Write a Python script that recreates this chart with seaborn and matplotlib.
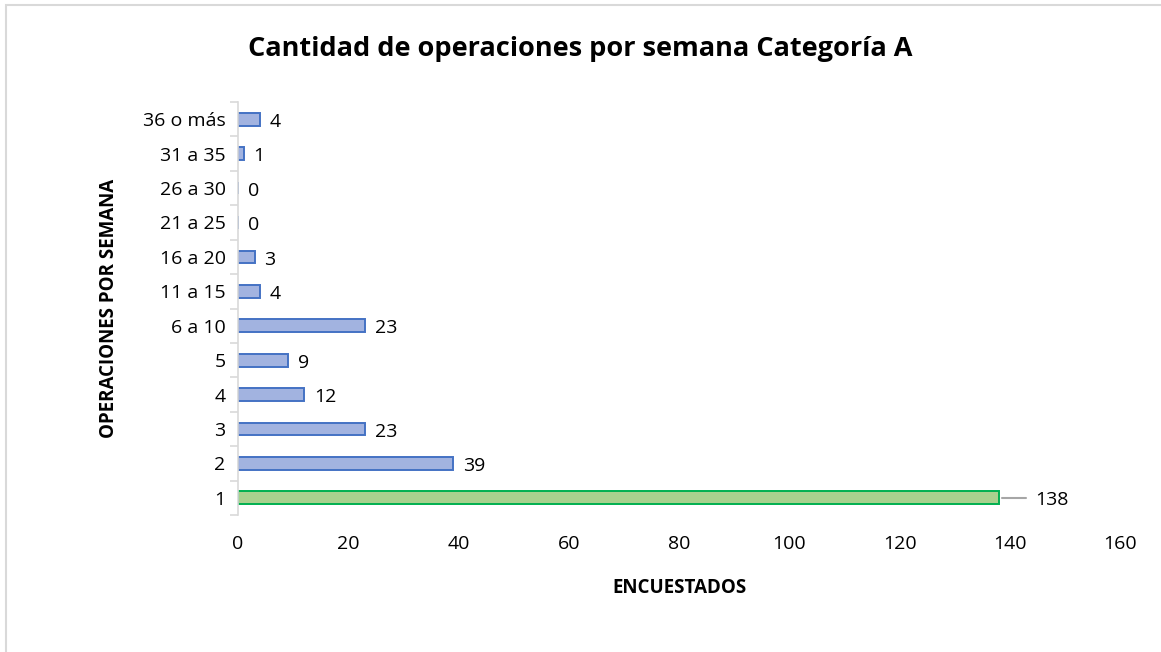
import pandas as pd
import matplotlib.pyplot as plt
import seaborn as sns
from matplotlib.ticker import FixedLocator

# Data (top to bottom as in the chart)
categorias = ["36 o más", "31 a 35", "26 a 30", "21 a 25", "16 a 20", "11 a 15",
              "6 a 10", "5", "4", "3", "2", "1"]
encuestados = [4, 1, 0, 0, 3, 4, 23, 9, 12, 23, 39, 138]
x_ticks = [0, 20, 40, 60, 80, 100, 120, 140, 160]

sns.set_theme(style="white")
plt.rcParams['font.family'] = ['Open Sans', 'DejaVu Sans']

df = pd.DataFrame({"Operaciones": categorias, "Encuestados": encuestados})

blue_fill, blue_edge = "#a2b3e0", "#4472c4"
green_fill, green_edge = "#a9d18e", "#00b050"
fills = {c: (green_fill if c == "1" else blue_fill) for c in categorias}
edges = [green_edge if c == "1" else blue_edge for c in categorias]

fig = plt.figure(figsize=(11.61, 6.52), dpi=100)
ax = fig.add_axes([0.205, 0.21, 0.7597, 0.6336])

sns.barplot(data=df, y="Operaciones", x="Encuestados", hue="Operaciones",
            palette=fills, order=categorias, legend=False, width=0.37,
            orient="h", ax=ax, saturation=1)

for patch, ec in zip(ax.patches, edges):
    patch.set_edgecolor(ec)
    patch.set_linewidth(1.4)

fs = 14
# value labels
for i, v in enumerate(encuestados):
    if v == 138:
        ax.plot([v + 0.6, v + 5.0], [i, i], color="#a6a6a6", lw=1.5)
        ax.text(v + 6.6, i + 0.05, str(v), va="center", ha="left", fontsize=fs,
                color="#000000")
    else:
        ax.text(v + 1.8, i + 0.08, str(v), va="center", ha="left", fontsize=fs,
                color="#000000")

ax.set_xlim(0, 160)
ax.set_ylim(len(categorias) - 0.5, -0.5)
ax.set_xticks(x_ticks)
ax.tick_params(axis="x", length=0, labelsize=fs, pad=14, colors="#000000")
ax.tick_params(axis="y", which="major", left=False, length=0, labelsize=fs,
               pad=9, colors="#000000")
ax.yaxis.set_minor_locator(FixedLocator([i - 0.5 for i in range(len(categorias) + 1)]))
ax.tick_params(axis="y", which="minor", left=True, length=6, width=1.2,
               color="#d9d9d9", direction="out")

for s in ["top", "right", "bottom"]:
    ax.spines[s].set_visible(False)
ax.spines["left"].set_color("#d9d9d9")
ax.spines["left"].set_linewidth(1.2)
ax.grid(False)

ax.set_xlabel("ENCUESTADOS", fontsize=13.5, fontweight="bold", labelpad=18,
              color="#000000")
ax.set_ylabel("OPERACIONES POR SEMANA", fontsize=13.5, fontweight="bold",
              labelpad=17, color="#000000")

fig.text(0.5, 0.925, "Cantidad de operaciones por semana Categoría A",
         ha="center", va="center", fontsize=19.5, fontweight="bold",
         color="#000000")

# chart border (light grey frame like the Excel chart area)
border = plt.Rectangle((0.005, -0.1), 1.2, 1.092, transform=fig.transFigure,
                       fill=False, edgecolor="#d9d9d9", lw=1.5)
fig.add_artist(border)

fig.savefig("out.png", dpi=100, facecolor="white")
